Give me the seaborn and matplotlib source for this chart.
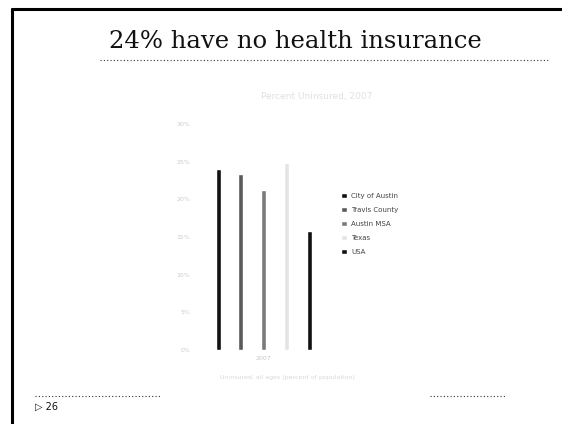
"""Slide: 24% have no health insurance -- uninsured rates by area."""
import matplotlib
matplotlib.use("Agg")
import matplotlib.pyplot as plt
from matplotlib.lines import Line2D
import seaborn as sns
import pandas as pd

sns.set_theme(style="white")
plt.rcParams["font.family"] = ["DejaVu Sans"]

# data (percent uninsured, 2007)
areas = ["City of Austin", "Travis County", "Austin MSA", "Texas", "USA"]
uninsured_pct = [24, 23.3, 21.2, 24.8, 15.8]
year = ["2007"]
y_ticks = [0, 5, 10, 15, 20, 25, 30]
bar_colors = ["#111111", "#5a5a5a", "#7a7a7a", "#e4e4e4", "#111111"]

df = pd.DataFrame({"year": year * len(areas), "area": areas, "pct": uninsured_pct})

fig = plt.figure(figsize=(5.62, 4.24), dpi=100)
W, H = 562, 424

# scanned slide frame
fig.add_artist(Line2D([12 / W, 1], [1 - 9 / H, 1 - 9 / H], color="black", lw=2.2))
fig.add_artist(Line2D([12 / W, 12 / W], [0, 1 - 9 / H], color="black", lw=2.2))

# title and dotted rules
fig.text(295 / W, 1 - 41 / H, "24% have no health insurance", family="DejaVu Serif",
         fontsize=17.5, ha="center", va="center", color="#111111", fontweight="light")
fig.add_artist(Line2D([100 / W, 548 / W], [1 - 60 / H] * 2, color="#333333", lw=0.8, ls=(0, (1, 2))))
fig.add_artist(Line2D([35 / W, 160 / W], [1 - 396 / H] * 2, color="#333333", lw=0.8, ls=(0, (1, 2))))
fig.add_artist(Line2D([430 / W, 505 / W], [1 - 396 / H] * 2, color="#333333", lw=0.8, ls=(0, (1, 2))))
fig.text(35 / W, 1 - 407 / H, "\u25b7 26", fontsize=7, ha="left", va="center", color="#111111")

# chart title (very faint on the scan)
fig.text(317 / W, 1 - 97 / H, "Percent Uninsured, 2007", fontsize=6.5,
         ha="center", va="center", color="#e0e0e0")

# chart area
ax = fig.add_axes([185 / W, 1 - 350 / H, 140 / W, 226 / H])
sns.barplot(data=df, x="year", y="pct", hue="area", hue_order=areas,
            palette=bar_colors, gap=0.78, ax=ax, legend=True)
ax.set_ylim(0, 30)
ax.set_xlim(-0.553, 0.43)
ax.set_yticks(y_ticks)
ax.set_yticklabels([f"{v}%" for v in y_ticks], fontsize=4.5, color="#cccccc")
ax.tick_params(axis="x", labelsize=4.5, labelcolor="#c8c8c8", length=0, pad=4)
ax.tick_params(axis="y", length=0, pad=-4)
ax.set_xlabel("Uninsured, all ages (percent of population)", fontsize=4.5, color="#d8d8d8")
ax.xaxis.set_label_coords((287 - 185) / 140, -(375 - 350) / 226)
ax.set_ylabel("")
for s in ax.spines.values():
    s.set_visible(False)

leg = ax.legend(loc="center left", bbox_to_anchor=(335 / W, 1 - 224 / H),
                bbox_transform=fig.transFigure, frameon=False, fontsize=5,
                handlelength=0.8, handleheight=0.8, labelspacing=1.15, handletextpad=0.6)
for t in leg.get_texts():
    t.set_color("#444444")

fig.savefig("out.png", dpi=100)
